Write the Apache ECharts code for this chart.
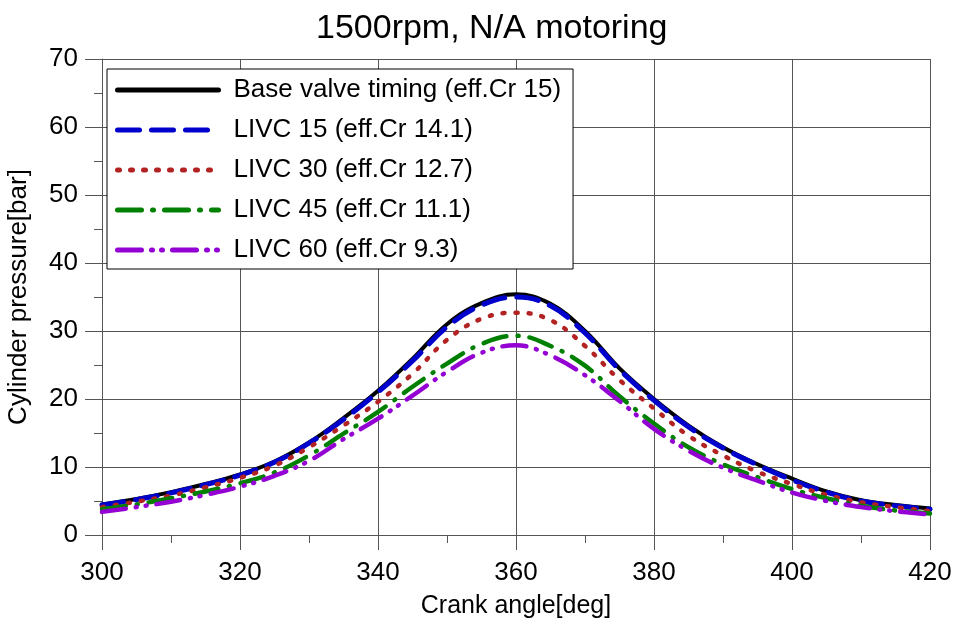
<!DOCTYPE html>
<html>
<head>
<meta charset="utf-8">
<script src="https://cdn.jsdelivr.net/npm/echarts@6/dist/echarts.min.js"></script>
<style>
  html, body { margin: 0; padding: 0; background: #fff; }
  #chart { width: 957px; height: 628px; }
</style>
</head>
<body>
<div id="chart"></div>
<script>
// crank angle [deg], every 5 deg
var crankAngle = [300, 305, 310, 315, 320, 325, 330, 335, 340, 345, 350, 355, 360,
                  365, 370, 375, 380, 385, 390, 395, 400, 405, 410, 415, 420];

// cylinder pressure [bar]
var baseTiming = [4.5, 5.3, 6.3, 7.5, 8.9, 10.8, 13.6, 17.2, 21.2, 25.9, 31.0, 34.1, 35.4,
                  34.0, 30.0, 24.5, 20.0, 16.1, 12.9, 10.4, 8.3, 6.4, 5.1, 4.4, 3.9];
var livc15 = [4.4, 5.2, 6.2, 7.4, 8.8, 10.7, 13.5, 17.0, 21.0, 25.6, 30.6, 33.8, 35.0,
              33.7, 29.7, 24.3, 19.8, 15.9, 12.8, 10.3, 8.1, 6.3, 5.0, 4.3, 3.8];
var livc30 = [4.1, 4.9, 5.8, 7.0, 8.4, 10.2, 12.9, 16.1, 19.6, 23.7, 28.7, 31.8, 32.7,
              31.6, 27.8, 22.8, 18.6, 14.6, 11.7, 9.3, 7.5, 5.9, 4.8, 4.1, 3.5];
var livc45 = [3.8, 4.5, 5.4, 6.4, 7.6, 9.2, 11.7, 14.9, 18.1, 21.8, 25.2, 28.1, 29.3,
              27.8, 24.9, 20.4, 16.4, 12.9, 10.4, 8.5, 6.75, 5.4, 4.3, 3.6, 3.15];
var livc60 = [3.4, 4.1, 4.9, 5.9, 7.1, 8.7, 10.9, 14.1, 17.1, 20.5, 24.0, 26.8, 27.9,
              26.4, 23.5, 19.7, 15.6, 12.4, 9.9, 8.0, 6.25, 5.0, 4.1, 3.5, 3.0];

var seriesNames = ['Base valve timing (eff.Cr 15)', 'LIVC 15 (eff.Cr 14.1)', 'LIVC 30 (eff.Cr 12.7)',
                   'LIVC 45 (eff.Cr 11.1)', 'LIVC 60 (eff.Cr 9.3)'];

function pairs(vals) {
  return crankAngle.map(function (a, i) { return [a, vals[i]]; });
}

var font = 'Liberation Sans, Arial, sans-serif';
var gridColor = '#555';

var myChart = echarts.init(document.getElementById('chart'));

function lineSeries(name, vals, color, width, dash) {
  return {
    name: name,
    type: 'line',
    data: pairs(vals),
    smooth: 0.4,
    showSymbol: false,
    symbol: 'none',
    lineStyle: { color: color, width: width, type: dash, cap: 'round' },
    itemStyle: { color: color }
  };
}

var option = {
  animation: false,
  backgroundColor: '#fff',
  title: {
    text: '1500rpm, N/A motoring',
    left: 311,
    top: 7,
    textStyle: { fontFamily: font, fontSize: 34, fontWeight: 'normal', color: '#000' }
  },
  legend: {
    orient: 'vertical',
    left: 107,
    top: 69,
    padding: [7, 12, 5, 8],
    itemWidth: 101,
    itemHeight: 14,
    itemGap: 12,
    borderColor: '#000',
    borderWidth: 1,
    backgroundColor: '#fff',
    data: seriesNames,
    itemStyle: { opacity: 0 },
    lineStyle: { width: 5, cap: 'round' },
    textStyle: { fontFamily: font, fontSize: 26, color: '#000', lineHeight: 28, padding: [0, 0, 0, 10] }
  },
  grid: { left: 102, right: 27, top: 59, bottom: 93, outerBoundsMode: 'none' },
  xAxis: {
    type: 'value',
    min: 300,
    max: 420,
    interval: 20,
    name: 'Crank angle[deg]',
    nameLocation: 'middle',
    nameGap: 59,
    nameTextStyle: { fontFamily: font, fontSize: 25, color: '#000' },
    axisLine: { show: true, lineStyle: { color: gridColor } },
    axisTick: { show: true, length: 15, lineStyle: { color: gridColor } },
    minorTick: { show: true, splitNumber: 2, length: 8, lineStyle: { color: gridColor } },
    axisLabel: { fontFamily: font, fontSize: 26, color: '#000', margin: 25 },
    splitLine: { show: true, lineStyle: { color: gridColor } }
  },
  yAxis: {
    type: 'value',
    min: 0,
    max: 70,
    interval: 10,
    name: 'Cylinder pressure[bar]',
    nameLocation: 'middle',
    nameGap: 70,
    nameTextStyle: { fontFamily: font, fontSize: 26, color: '#000' },
    axisLine: { show: true, lineStyle: { color: gridColor } },
    axisTick: { show: true, length: 17, lineStyle: { color: gridColor } },
    minorTick: { show: true, splitNumber: 2, length: 8, lineStyle: { color: gridColor } },
    axisLabel: { fontFamily: font, fontSize: 26, color: '#000', margin: 24 },
    splitLine: { show: true, lineStyle: { color: gridColor } }
  },
  series: [
    lineSeries(seriesNames[0], baseTiming, '#000000', 4, 'solid'),
    lineSeries(seriesNames[1], livc15, '#0000cc', 5, [22, 12]),
    lineSeries(seriesNames[2], livc30, '#b22222', 4.5, [2, 11]),
    lineSeries(seriesNames[3], livc45, '#008000', 4.5, [24, 11, 1, 11]),
    lineSeries(seriesNames[4], livc60, '#9400d3', 4.5, [24, 10, 1, 9, 1, 10])
  ]
};

myChart.setOption(option);
window.addEventListener('resize', function () {
  myChart.resize();
});
</script>
</body>
</html>
